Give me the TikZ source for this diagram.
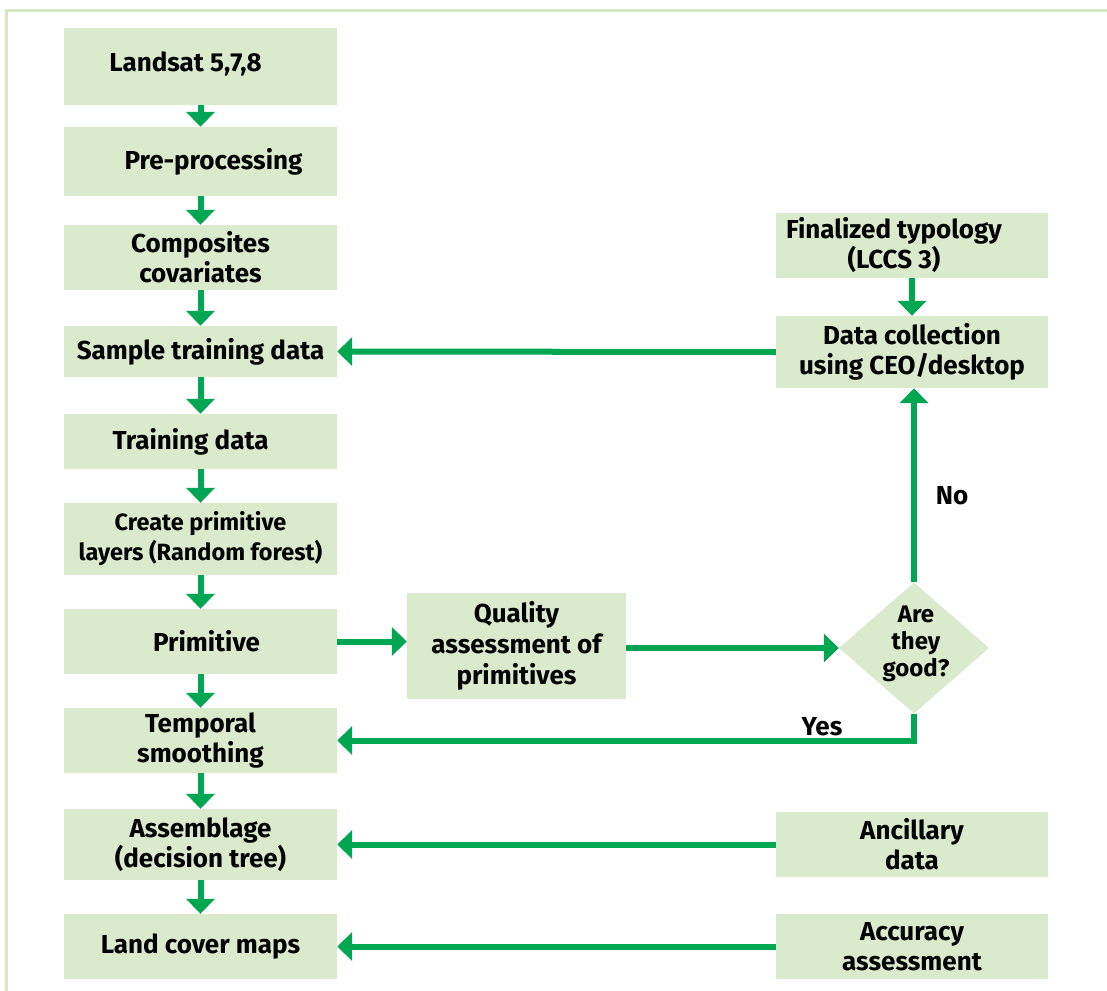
\documentclass[tikz,border=0pt]{standalone}
\usepackage{fontspec}
\setmainfont{Fira Sans}
\usetikzlibrary{arrows.meta,shapes.geometric}
\definecolor{flowgreen}{RGB}{0,166,81}
\definecolor{boxfill}{RGB}{218,234,204}
\definecolor{framegreen}{RGB}{213,232,196}
\tikzset{
  box/.style={rectangle, fill=boxfill, inner sep=0pt, align=center,
    font=\fontsize{26}{30}\selectfont\bfseries},
  leftbox/.style={box, minimum width=273pt},
  rightbox/.style={box, minimum width=272pt},
  arr/.style={draw=flowgreen, line width=6pt,
    -{Triangle[length=15pt,width=28pt]}},
  lbl/.style={font=\fontsize{26}{30}\selectfont\bfseries, align=center, inner sep=0pt}
}
\begin{document}
\begin{tikzpicture}[x=1pt,y=-1pt]
\useasboundingbox (0,0) rectangle (1107,990);
% outer frame, open at the right and bottom
\draw[framegreen, line width=3pt] (6,992) -- (6,11) -- (1109,11);

% main column
\node[leftbox, minimum height=77pt] (landsat) at (200.5,66.5) {\raisebox{9pt}{\hspace*{-30pt}Landsat 5,7,8}};
\node[leftbox, minimum height=69pt] (pre) at (200.5,161.5) {\hspace*{26pt}Pre-processing};
\node[leftbox, minimum height=65pt] (comp) at (200.5,257.5) {Composites\\covariates};
\node[leftbox, minimum height=51pt] (sample) at (200.5,351.5) {Sample training data};
\node[leftbox, minimum height=55pt] (train) at (200.5,441.5) {\hspace*{-20pt}Training data};
\node[leftbox, minimum height=72pt, font=\fontsize{23.5}{30}\selectfont\bfseries] (create) at (200.5,539) {Create primitive\\layers (Random forest)};
\node[leftbox, minimum height=65pt] (prim) at (200.5,641.5) {\hspace*{12pt}Primitive};
\node[leftbox, minimum height=65pt] (temp) at (200.5,740.5) {Temporal\\smoothing};
\node[leftbox, minimum height=71pt] (assem) at (200.5,844.5) {Assemblage\\(decision tree)};
\node[leftbox, minimum height=65pt] (land) at (200.5,946.5) {Land cover maps};

% right column
\node[rightbox, minimum height=65pt] (typo) at (912,245.5) {\hspace*{-36pt}Finalized typology\\\hspace*{-36pt}(LCCS 3)};
\node[rightbox, minimum height=72pt] (datacol) at (912,352) {Data collection\\using CEO/desktop};
\node[rightbox, minimum height=65pt] (anc) at (912,844.5) {Ancillary\\data};
\node[rightbox, minimum height=65pt] (acc) at (912,946.5) {Accuracy\\assessment};

% quality check
\node[box, minimum width=219pt, minimum height=106pt, font=\fontsize{26}{31}\selectfont\bfseries] (qual) at (516.5,646) {Quality\\assessment of\\primitives};
\node[diamond, fill=boxfill, minimum width=150pt, minimum height=131pt, inner sep=0pt] (dia) at (914,648) {};
\node[lbl, font=\fontsize{24}{27}\selectfont\bfseries] (diatext) at (916,644) {Are\\they\\good?};

% flow down the main column
\draw[arr] (landsat.south) -- (pre.north);
\draw[arr] (pre.south) -- (comp.north);
\draw[arr] (comp.south) -- (sample.north);
\draw[arr] (sample.south) -- (train.north);
\draw[arr] (train.south) -- (create.north);
\draw[arr] (create.south) -- (prim.north);
\draw[arr] (prim.south) -- (temp.north);
\draw[arr] (temp.south) -- (assem.north);
\draw[arr] (assem.south) -- (land.north);

% side branches
\draw[arr] (typo.south) -- (datacol.north);
\draw[arr] (datacol.west) -- (sample.east);
\draw[arr] (prim.east) -- (qual.west |- prim.east);
\draw[arr] (qual.east |- dia.west) -- (dia.west);
\draw[arr] (dia.north) -- (dia.north |- datacol.south);
\draw[arr] (dia.south) |- (temp.east);
\draw[arr] (anc.west) -- (assem.east);
\draw[arr] (acc.west) -- (land.east);

\node[lbl] (nolbl) at (952,496) {No};
\node[lbl] (yeslbl) at (822,727) {Yes};
\end{tikzpicture}
\end{document}
